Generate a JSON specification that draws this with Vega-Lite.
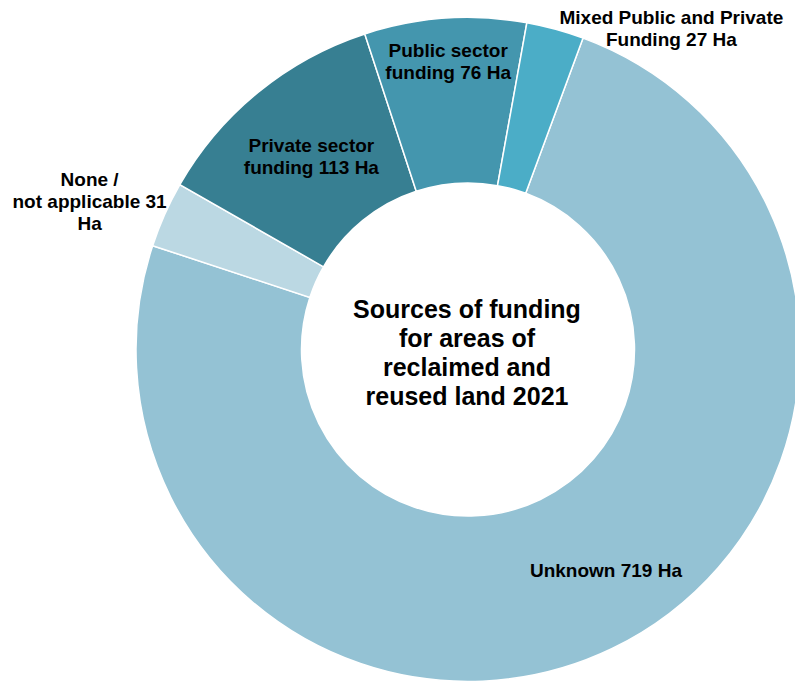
{
  "$schema": "https://vega.github.io/schema/vega-lite/v6.json",
  "width": 654,
  "height": 669,
  "autosize": {"type": "none"},
  "padding": {"left": 141, "top": 15, "right": 0, "bottom": 0},
  "background": "white",
  "config": {"view": {"stroke": null}, "font": "Liberation Sans"},
  "data": {
    "values": [
      {"source": "Unknown", "ha": 719, "seq": 1, "label": "Unknown 719 Ha"},
      {"source": "None / not applicable", "ha": 31, "seq": 2, "label": "None /\nnot applicable 31\nHa"},
      {"source": "Private sector funding", "ha": 113, "seq": 3, "label": "Private sector\nfunding 113 Ha"},
      {"source": "Public sector funding", "ha": 76, "seq": 4, "label": "Public sector\nfunding 76 Ha"},
      {"source": "Mixed Public and Private Funding", "ha": 27, "seq": 5, "label": "Mixed Public and Private\nFunding 27 Ha"}
    ]
  },
  "encoding": {
    "theta": {"field": "ha", "type": "quantitative", "stack": true, "scale": {"range": [0.354, 6.637]}},
    "order": {"field": "seq", "type": "quantitative"}
  },
  "layer": [
    {
      "mark": {"type": "arc", "outerRadius": 332, "innerRadius": 166.5, "stroke": "white", "strokeWidth": 1.5},
      "encoding": {
        "color": {
          "field": "source",
          "type": "nominal",
          "legend": null,
          "scale": {
            "domain": ["Unknown", "None / not applicable", "Private sector funding", "Public sector funding", "Mixed Public and Private Funding"],
            "range": ["#94C2D4", "#BBD8E3", "#377F92", "#4496AE", "#4BADC7"]
          }
        }
      }
    },
    {
      "mark": {"type": "text", "radius": 260, "dx": 25, "dy": -13, "fontSize": 19, "fontWeight": "bold", "color": "black", "lineBreak": "\n", "lineHeight": 22, "align": "center", "baseline": "middle"},
      "encoding": {"text": {"condition": {"test": "datum.seq == 1", "field": "label"}, "value": ""}}
    },
    {
      "mark": {"type": "text", "radius": 400, "dx": -13, "dy": -7, "fontSize": 19, "fontWeight": "bold", "color": "black", "lineBreak": "\n", "lineHeight": 22, "align": "center", "baseline": "middle"},
      "encoding": {"text": {"condition": {"test": "datum.seq == 2", "field": "label"}, "value": ""}}
    },
    {
      "mark": {"type": "text", "radius": 248, "dy": -11, "fontSize": 19, "fontWeight": "bold", "color": "black", "lineBreak": "\n", "lineHeight": 22, "align": "center", "baseline": "middle"},
      "encoding": {"text": {"condition": {"test": "datum.seq == 3", "field": "label"}, "value": ""}}
    },
    {
      "mark": {"type": "text", "radius": 288, "dy": -11, "fontSize": 19, "fontWeight": "bold", "color": "black", "lineBreak": "\n", "lineHeight": 22, "align": "center", "baseline": "middle"},
      "encoding": {"text": {"condition": {"test": "datum.seq == 4", "field": "label"}, "value": ""}}
    },
    {
      "mark": {"type": "text", "radius": 340, "dx": 114, "dy": -3, "fontSize": 19, "fontWeight": "bold", "color": "black", "lineBreak": "\n", "lineHeight": 22, "align": "center", "baseline": "middle"},
      "encoding": {"text": {"condition": {"test": "datum.seq == 5", "field": "label"}, "value": ""}}
    },
    {
      "data": {"values": [{"title": "Sources of funding\nfor areas of\nreclaimed and\nreused land 2021"}]},
      "mark": {"type": "text", "dx": -1, "dy": -40, "fontSize": 25, "fontWeight": "bold", "color": "black", "lineBreak": "\n", "lineHeight": 29, "align": "center", "baseline": "middle"},
      "encoding": {"text": {"field": "title"}, "theta": null, "order": null}
    }
  ]
}
